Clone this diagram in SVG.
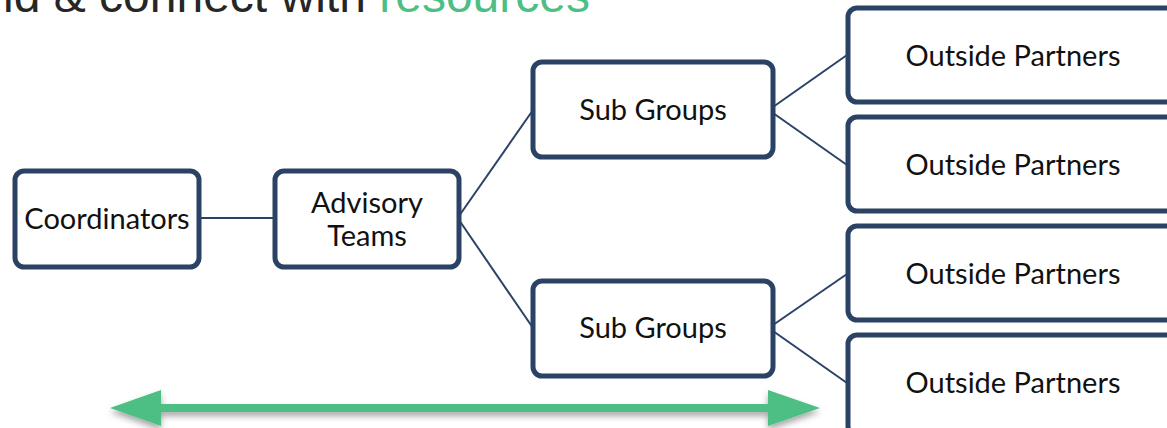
<svg xmlns="http://www.w3.org/2000/svg" width="1167" height="428" viewBox="0 0 1167 428">
<style>
.box{fill:#fff;stroke:#2a4365;stroke-width:5}
.lbl{font-family:Lato,"Open Sans",sans-serif;font-size:29px;fill:#111;text-anchor:middle;dominant-baseline:central}
.conn{stroke:#2a4365;stroke-width:2;fill:none}
.title{font-family:"Liberation Sans",Arial,sans-serif;font-size:48px;fill:#262626}
</style>
<defs>
<filter id="sh" x="-5%" y="-50%" width="110%" height="200%">
<feDropShadow dx="0" dy="4" stdDeviation="3" flood-color="#000" flood-opacity="0.35"/>
</filter>
</defs>
<text class="title" x="3" y="12">id &amp; connect with <tspan fill="#4dbf84">resources</tspan></text>
<g id="connectors">
<line class="conn" x1="199" y1="218" x2="273" y2="218"/>
<line class="conn" x1="459" y1="216" x2="533" y2="110"/>
<line class="conn" x1="459" y1="220" x2="533" y2="328"/>
<line class="conn" x1="773" y1="107" x2="847" y2="55"/>
<line class="conn" x1="773" y1="113" x2="847" y2="165"/>
<line class="conn" x1="773" y1="325" x2="847" y2="274"/>
<line class="conn" x1="773" y1="331" x2="847" y2="383"/>
</g>
<g id="coordinators"><rect class="box" x="15" y="171" width="184" height="96" rx="9"/><text class="lbl" x="107" y="217">Coordinators</text></g>
<g id="advisory"><rect class="box" x="275" y="171" width="184" height="96" rx="9"/><text class="lbl" x="367" y="201">Advisory</text><text class="lbl" x="367" y="234">Teams</text></g>
<g id="sub1"><rect class="box" x="533" y="62" width="240" height="95" rx="9"/><text class="lbl" x="653" y="108">Sub Groups</text></g>
<g id="sub2"><rect class="box" x="533" y="281" width="240" height="95" rx="9"/><text class="lbl" x="653" y="326">Sub Groups</text></g>
<g id="op1"><rect class="box" x="848" y="8" width="340" height="94" rx="9"/><text class="lbl" x="1013" y="54">Outside Partners</text></g>
<g id="op2"><rect class="box" x="848" y="117" width="340" height="94" rx="9"/><text class="lbl" x="1013" y="163">Outside Partners</text></g>
<g id="op3"><rect class="box" x="848" y="226" width="340" height="94" rx="9"/><text class="lbl" x="1013" y="272">Outside Partners</text></g>
<g id="op4"><rect class="box" x="848" y="335" width="340" height="100" rx="9"/><text class="lbl" x="1013" y="381">Outside Partners</text></g>
<g id="arrow" filter="url(#sh)">
<path d="M110 408 L161 390 L161 404 L768 404 L768 390 L820 408 L768 426 L768 412 L161 412 L161 426 Z" fill="#4dbf84"/>
</g>
</svg>
